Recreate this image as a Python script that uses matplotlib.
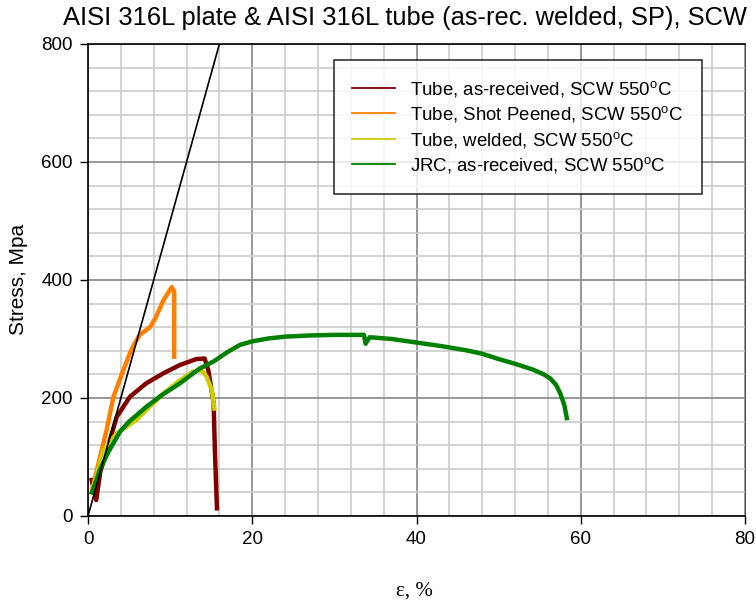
import matplotlib
matplotlib.use("Agg")
import matplotlib.pyplot as plt
from matplotlib.ticker import MultipleLocator
from matplotlib.lines import Line2D

plt.rcParams['font.family'] = ['Liberation Sans', 'DejaVu Sans']
plt.rcParams['mathtext.fontset'] = 'custom'
plt.rcParams['mathtext.rm'] = 'Liberation Sans'
plt.rcParams['mathtext.it'] = 'Liberation Sans:italic'

# Strain (%) / stress (MPa) points of each test
tube_ar_x = [0.45, 1.0, 1.5, 2.3, 3.5, 5.1, 7.1, 9.2, 11.2, 13.2, 14.2, 14.65, 15.3, 15.45, 15.7]
tube_ar_y = [61, 27, 75, 112, 168, 202, 225, 242, 256, 266, 267, 247, 191, 112, 13]

tube_sp_x = [0.45, 1.46, 2.27, 3.1, 4.3, 5.1, 5.7, 6.3, 7.55, 8.2, 9.2, 10.2, 10.5, 10.5]
tube_sp_y = [41, 100, 146, 202, 247, 276, 293, 307, 320, 335, 366, 388, 380, 270]

tube_w_x = [0.5, 1.9, 3.5, 5.9, 9.2, 11.2, 12.8, 13.85, 14.45, 15.06, 15.4]
tube_w_y = [40, 112, 140, 163, 208, 230, 245, 247, 236, 214, 182]

jrc_x = [0.5, 1.5, 2.5, 3.9, 5.0, 7.1, 9.0, 11.2, 13.6, 15.3, 17.0, 18.5, 20.0, 22.0,
         24.0, 27.0, 30.0, 33.6, 33.8, 34.3, 37.0, 40.0, 43.0, 46.0, 48.0, 50.0, 52.0,
         54.2, 55.5, 56.3, 57.0, 57.5, 58.0, 58.3]
jrc_y = [40, 80, 109, 143, 160, 185, 205, 225, 250, 262, 278, 290, 296, 301,
         304, 306, 307, 307, 292, 303, 300, 294, 288, 281, 275, 266, 258,
         248, 240, 233, 222, 208, 188, 166]

# Elastic reference line
elastic_x = [0, 16]
elastic_y = [0, 800]

labels = [
    "Tube, as-received, SCW 550$^{\\rm o}$C",
    "Tube, Shot Peened, SCW 550$^{\\rm o}$C",
    "Tube, welded, SCW 550$^{\\rm o}$C",
    "JRC, as-received, SCW 550$^{\\rm o}$C",
]
colors = ["#800000", "#ff8000", "#cccc00", "#008000"]

fig = plt.figure(figsize=(7.56, 6.03), dpi=100)
ax = fig.add_axes([88 / 756, 1 - 516 / 603, (745 - 88) / 756, (516 - 44) / 603])

ax.set_xlim(0, 80)
ax.set_ylim(0, 800)
ax.xaxis.set_major_locator(MultipleLocator(20))
ax.xaxis.set_minor_locator(MultipleLocator(4))
ax.yaxis.set_major_locator(MultipleLocator(200))
ax.yaxis.set_minor_locator(MultipleLocator(40))
ax.grid(which='minor', color='#cccccc', linewidth=1.2)
ax.grid(which='major', color='#888888', linewidth=1.2)
ax.set_axisbelow(True)

ax.tick_params(which='major', direction='out', length=6, width=1, labelsize=13.5, pad=5)
ax.tick_params(which='minor', length=0)
for side in ['left', 'bottom', 'top']:
    ax.spines[side].set_color('black')
    ax.spines[side].set_linewidth(1.2)
ax.spines['right'].set_color('#555555')

series = [(tube_ar_x, tube_ar_y), (tube_sp_x, tube_sp_y), (tube_w_x, tube_w_y), (jrc_x, jrc_y)]
for i in [3, 2, 0, 1]:
    xs, ys = series[i]
    ax.plot(xs, ys, color=colors[i], linewidth=3.2, solid_joinstyle='round', zorder=3 + i)
ax.plot(elastic_x, elastic_y, color='black', linewidth=1.2, zorder=10)

legend_handles = [Line2D([0], [0], color=c, linewidth=1.3) for c in colors]
leg = ax.legend(legend_handles, labels, loc='upper right', bbox_to_anchor=(0.9345, 0.966),
                fontsize=13.4, frameon=True, fancybox=False, handlelength=2.3,
                borderpad=1.0, labelspacing=0.3, handletextpad=0.8, borderaxespad=0)
leg.get_frame().set_edgecolor('black')
leg.get_frame().set_linewidth(1.2)
leg.set_zorder(20)

fig.text(405 / 756, 1 - 18 / 603, "AISI 316L plate & AISI 316L tube (as-rec. welded, SP), SCW",
         ha='center', va='center', fontsize=18.4)
fig.text(19 / 756, 1 - 279 / 603, "Stress, Mpa", rotation=90, ha='center', va='center', fontsize=15)
fig.text(414 / 756, 1 - 591 / 603, "\u03b5, %", ha='center', va='center', fontsize=15,
         family=['Liberation Serif', 'DejaVu Serif'])

fig.savefig("out.png", dpi=100)
